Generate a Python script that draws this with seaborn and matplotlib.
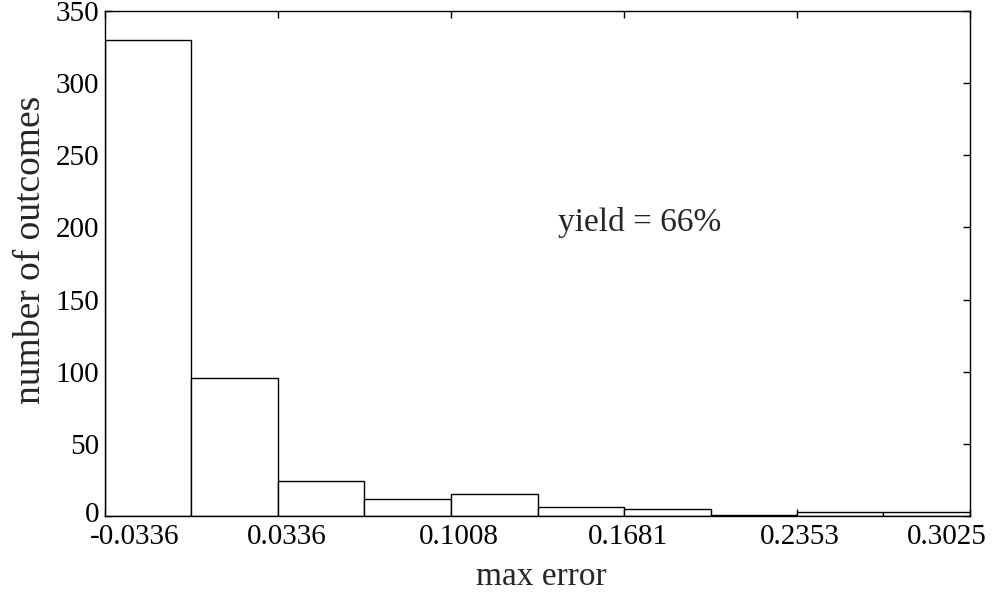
import matplotlib
matplotlib.use("Agg")
import matplotlib.pyplot as plt
import matplotlib.transforms as mtransforms
import seaborn as sns

# bin edges of the histogram and counts per bin
bin_edges = [-0.0336, 0.0000, 0.0336, 0.0672, 0.1008, 0.1345,
             0.1681, 0.2017, 0.2353, 0.2689, 0.3025]
counts = [330, 96, 24, 12, 15, 6, 5, 1, 3, 3]
tick_values = [-0.0336, 0.0336, 0.1008, 0.1681, 0.2353, 0.3025]
tick_labels = ['-0.0336', '0.0336', '0.1008', '0.1681', '0.2353', '0.3025']
yield_text = 'yield = 66%'

sns.set_style('ticks')
plt.rcParams['font.family'] = ['Liberation Serif', 'DejaVu Serif']

fig = plt.figure(figsize=(9.95, 5.96), dpi=100)
ax = fig.add_axes([0.1055, 0.1342, 0.8693, 0.8473])

centers = [(a + b) / 2 for a, b in zip(bin_edges[:-1], bin_edges[1:])]
sns.histplot(x=centers, weights=counts, bins=bin_edges, ax=ax,
             color='white', edgecolor='black', linewidth=1.0, alpha=1.0)

ax.set_xlim(bin_edges[0], bin_edges[-1])
ax.set_ylim(0, 350)
ax.set_xticks(tick_values)
ax.set_xticklabels(tick_labels)
ax.set_yticks(range(0, 351, 50))

for side in ['top', 'right', 'bottom', 'left']:
    ax.spines[side].set_visible(True)
    ax.spines[side].set_linewidth(1.0)
    ax.spines[side].set_color('black')

ax.tick_params(direction='in', length=5, width=1, top=True, right=True,
               labelsize=21, colors='black')
ax.tick_params(axis='y', pad=4)
ax.tick_params(axis='x', pad=6)

# nudge x tick labels to where they sit in the original
offsets = [30, 9, 8, 4, 3, -23]
for lab, dx in zip(ax.get_xticklabels(), offsets):
    lab.set_transform(lab.get_transform() +
                      mtransforms.ScaledTranslation(dx / 100, 0, fig.dpi_scale_trans))

# lift the "0" label a touch so it clears the first x label
zero_lab = ax.get_yticklabels()[0]
zero_lab.set_transform(zero_lab.get_transform() +
                       mtransforms.ScaledTranslation(0, 4 / 100, fig.dpi_scale_trans))

ax.set_xlabel('max error', fontsize=24)
ax.set_ylabel('number of outcomes', fontsize=27)
ax.xaxis.set_label_coords(0.505, -0.09)
ax.yaxis.set_label_coords(-0.066, 0.527)

ax.text(0.524, 0.582, yield_text, transform=ax.transAxes, fontsize=24,
        ha='left', va='center')

fig.savefig('out.png', dpi=100)
